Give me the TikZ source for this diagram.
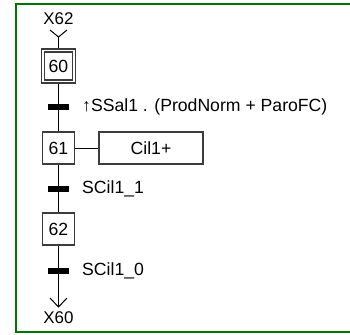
\documentclass[tikz,border=0pt]{standalone}
\usepackage{fontspec}
\setmainfont{Liberation Sans}
\definecolor{framegreen}{RGB}{0,120,0}
\definecolor{boxgray}{RGB}{60,60,60}
\begin{document}
\begin{tikzpicture}[x=1bp,y=-1bp,
  every node/.style={font=\fontsize{17.7}{19}\selectfont, inner sep=0pt},
  stepbox/.style={draw=boxgray, line width=1.1bp, minimum width=32bp, minimum height=32bp},
  trbar/.style={fill=black, minimum width=21bp, minimum height=6bp},
  lbl/.style={anchor=west},
  varlbl/.style={font=\fontsize{17}{19}\selectfont},
  link/.style={draw=black, line width=1bp}]
\useasboundingbox (0,0) rectangle (350,335);
\draw[framegreen, line width=2.2bp] (352,4) -- (16,4) -- (16,332) -- (352,332);
% top entry
\node[varlbl] (x62) at (58.5,19) {X62};
\coordinate (vtl) at (50,30);
\coordinate (vtr) at (67,30);
\coordinate (vtop) at (58.5,37);
\draw[link] (vtl) -- (vtop) -- (vtr);
% step 60 (initial)
\node[stepbox, minimum width=34bp, minimum height=34bp] (s60) at (58.5,66) {};
\node[stepbox, minimum width=28bp, minimum height=28bp] (s60i) at (58.5,66) {60};
% transition 1
\node[trbar] (t1) at (58.5,107) {};
\node[lbl] (c1) at (82,107) {↑SSal1 . (ProdNorm + ParoFC)};
% step 61
\node[stepbox] (s61) at (58.5,148) {61};
\node[stepbox, minimum width=104bp] (a61) at (151,148) {Cil1+};
% transition 2
\node[trbar] (t2) at (58.5,188.5) {};
\node[lbl] (c2) at (82,188.5) {SCil1\_1};
% step 62
\node[stepbox] (s62) at (58.5,229) {62};
% transition 3
\node[trbar] (t3) at (58.5,270.5) {};
\node[lbl] (c3) at (82,270.5) {SCil1\_0};
% exit
\coordinate (vbot) at (58.5,307);
\coordinate (vbl) at (50,298);
\coordinate (vbr) at (67,298);
\node[varlbl] (x60) at (58.5,318) {X60};
% links
\draw[link] (vtop) -- (s60.north);
\draw[link] (s60.south) -- (t1.center);
\draw[link] (t1.center) -- (s61.north);
\draw[link] (s61.east) -- (a61.west);
\draw[link] (s61.south) -- (t2.center);
\draw[link] (t2.center) -- (s62.north);
\draw[link] (s62.south) -- (t3.center);
\draw[link] (t3.center) -- (vbot);
\draw[link] (vbl) -- (vbot) -- (vbr);
\end{tikzpicture}
\end{document}
